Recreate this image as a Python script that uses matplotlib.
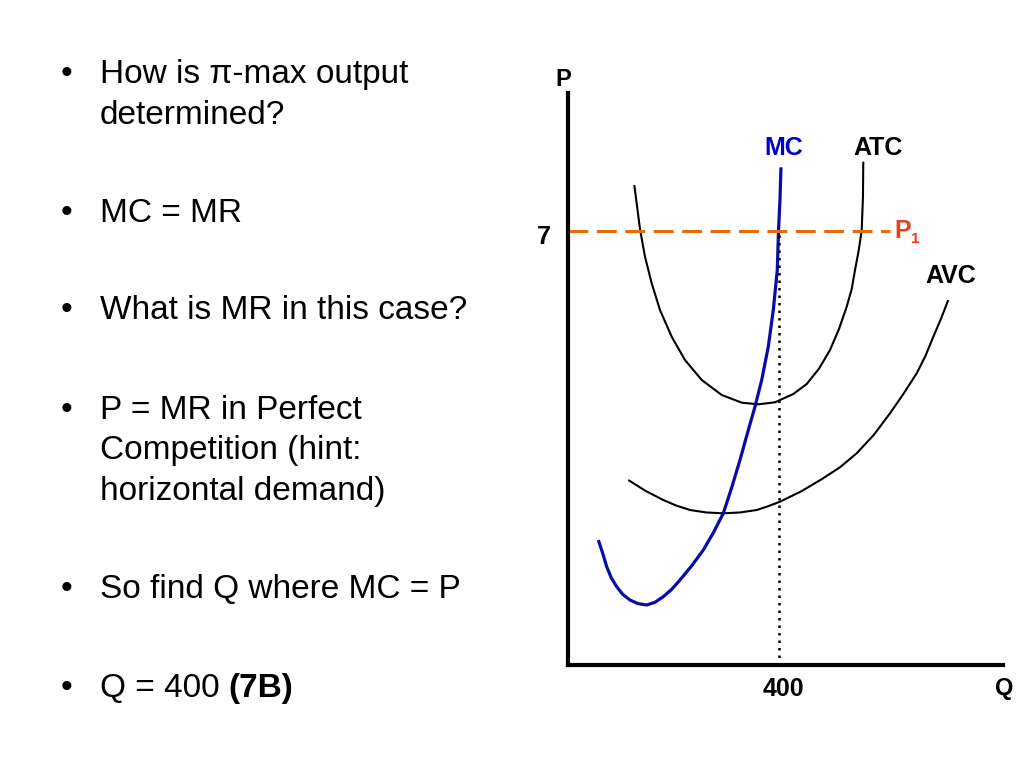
import matplotlib
matplotlib.use("Agg")
import matplotlib.pyplot as plt
import matplotlib.transforms as mtransforms

# ---- data ----
mc_q = [57.6, 66, 73.5, 82, 92.5, 104, 117.8, 133, 149.5, 165, 181.1, 197, 212.8, 235, 257.1, 276, 295.1, 311, 326.8, 341, 355.3, 368.1, 380.6, 390.1, 397.7, 400, 402.8, 404.7]
mc_p = [2.016, 1.80, 1.586, 1.41, 1.263, 1.14, 1.048, 0.99, 0.968, 1.01, 1.102, 1.22, 1.371, 1.60, 1.855, 2.13, 2.447, 2.86, 3.306, 3.74, 4.166, 4.597, 5.134, 5.726, 6.371, 7.0, 7.50, 8.027]

atc_q = [126.0, 136.8, 146.3, 159.0, 174.8, 197.0, 222.3, 254.1, 292.1, 330.1, 361.6, 393.3, 428, 453.6, 477, 497.9, 515, 529.6, 539, 545.4, 552.5, 558.1, 560.5, 561.1]
atc_p = [7.742, 7.032, 6.586, 6.157, 5.726, 5.295, 4.919, 4.597, 4.355, 4.231, 4.205, 4.237, 4.37, 4.532, 4.78, 5.081, 5.42, 5.779, 6.06, 6.371, 6.69, 7.016, 7.55, 8.118]

avc_q = [114.6, 147, 181.1, 206, 231.8, 263, 295.1, 327, 358.6, 380, 402.8, 443, 482.7, 517, 548.6, 581, 611.9, 638, 662.6, 679, 694.2, 709, 722.6]
avc_p = [2.984, 2.81, 2.661, 2.57, 2.500, 2.46, 2.447, 2.46, 2.500, 2.56, 2.634, 2.80, 3.000, 3.19, 3.415, 3.71, 4.060, 4.38, 4.705, 4.98, 5.295, 5.59, 5.887]

price = 7
q_star = 400
x_ticks = [400]
x_tick_labels = ["400"]
y_ticks = [7]
y_tick_labels = ["7"]

bullets = [
    ["How is π-max output", "determined?"],
    ["MC = MR"],
    ["What is MR in this case?"],
    ["P = MR in Perfect", "Competition (hint:", "horizontal demand)"],
    ["So find Q where MC = P"],
    ["Q = 400 "],
]
bullet_baselines = [83, 222, 319, 419, 598, 697]

# ---- figure ----
W, H = 1024, 768
plt.rcParams["font.family"] = ["Liberation Sans", "DejaVu Sans"]
fig = plt.figure(figsize=(W / 100, H / 100), dpi=100)
fig.patch.set_facecolor("white")

def fx(px):
    return px / W

def fy(py):
    return 1 - py / H

# axes: left spine x=568, bottom spine y=665, top y=93, right x=1003
ax = fig.add_axes([fx(568), fy(665), (1003 - 568) / W, (665 - 93) / H])
ax.set_xlim(0, (1003 - 568) * 400 / 210.5)
ax.set_ylim(0, (665 - 93) * 7 / 434)
for s in ["top", "right"]:
    ax.spines[s].set_visible(False)
for s in ["left", "bottom"]:
    ax.spines[s].set_linewidth(3.0)
    ax.spines[s].set_color("black")
    ax.spines[s].set_capstyle("projecting")

LBL = 18
ax.set_xticks(x_ticks)
ax.set_xticklabels(x_tick_labels, fontsize=LBL, fontweight="bold")
ax.set_yticks(y_ticks)
ax.set_yticklabels(y_tick_labels, fontsize=LBL, fontweight="bold")
ax.tick_params(axis="x", length=0, pad=9)
ax.tick_params(axis="y", length=0, pad=12)
for lbl in ax.get_xticklabels():
    lbl.set_transform(lbl.get_transform() + mtransforms.ScaledTranslation(0.05, 0, fig.dpi_scale_trans))
for lbl in ax.get_yticklabels():
    lbl.set_verticalalignment("center")
    lbl.set_transform(lbl.get_transform() + mtransforms.ScaledTranslation(0, -0.06, fig.dpi_scale_trans))

# curves
ax.plot(atc_q, atc_p, color="black", lw=1.5, solid_capstyle="butt", solid_joinstyle="round")
ax.plot(avc_q, avc_p, color="black", lw=1.5, solid_capstyle="butt", solid_joinstyle="round")
ax.plot(mc_q, mc_p, color="#0A0AAA", lw=2.3, solid_capstyle="butt", solid_joinstyle="round")

# price line and quantity line
ax.hlines(price, 0, 612, colors="#E46C0A", lw=2.2, linestyles=(0, (6.5, 2.8)))
ax.vlines(q_star, 0, price, colors="black", lw=1.8, linestyles=(0, (1, 2)))

# labels on chart
fig.text(fx(563), fy(80), "P", fontsize=LBL - 1, fontweight="bold", ha="center", va="center")
fig.text(fx(1004), fy(688), "Q", fontsize=LBL - 1, fontweight="bold", ha="center", va="center")
fig.text(fx(784), fy(148), "MC", fontsize=LBL, fontweight="bold", color="#0000CC", ha="center", va="center")
fig.text(fx(878), fy(148), "ATC", fontsize=LBL, fontweight="bold", ha="center", va="center")
fig.text(fx(951), fy(276), "AVC", fontsize=LBL, fontweight="bold", ha="center", va="center")
fig.text(fx(894), fy(238), "P", fontsize=LBL, fontweight="bold", color="#E8401C", ha="left", va="baseline")
fig.text(fx(911), fy(243), "1", fontsize=11, fontweight="bold", color="#E8401C", ha="left", va="baseline")

# bullet text
FS = 24
line_gap = 40.5
for lines, base in zip(bullets, bullet_baselines):
    fig.text(fx(61), fy(base), "•", fontsize=FS, ha="left", va="baseline")
    for i, line in enumerate(lines):
        fig.text(fx(100), fy(base + i * line_gap), line, fontsize=FS, ha="left", va="baseline")

# bold part of last bullet
r = fig.canvas.get_renderer()
t_last = fig.texts[-1]
bb = t_last.get_window_extent(renderer=r)
fig.text(bb.x1 / W, fy(697), "(7B)", fontsize=FS, fontweight="bold", ha="left", va="baseline")

fig.savefig("out.png", dpi=100, facecolor="white")
